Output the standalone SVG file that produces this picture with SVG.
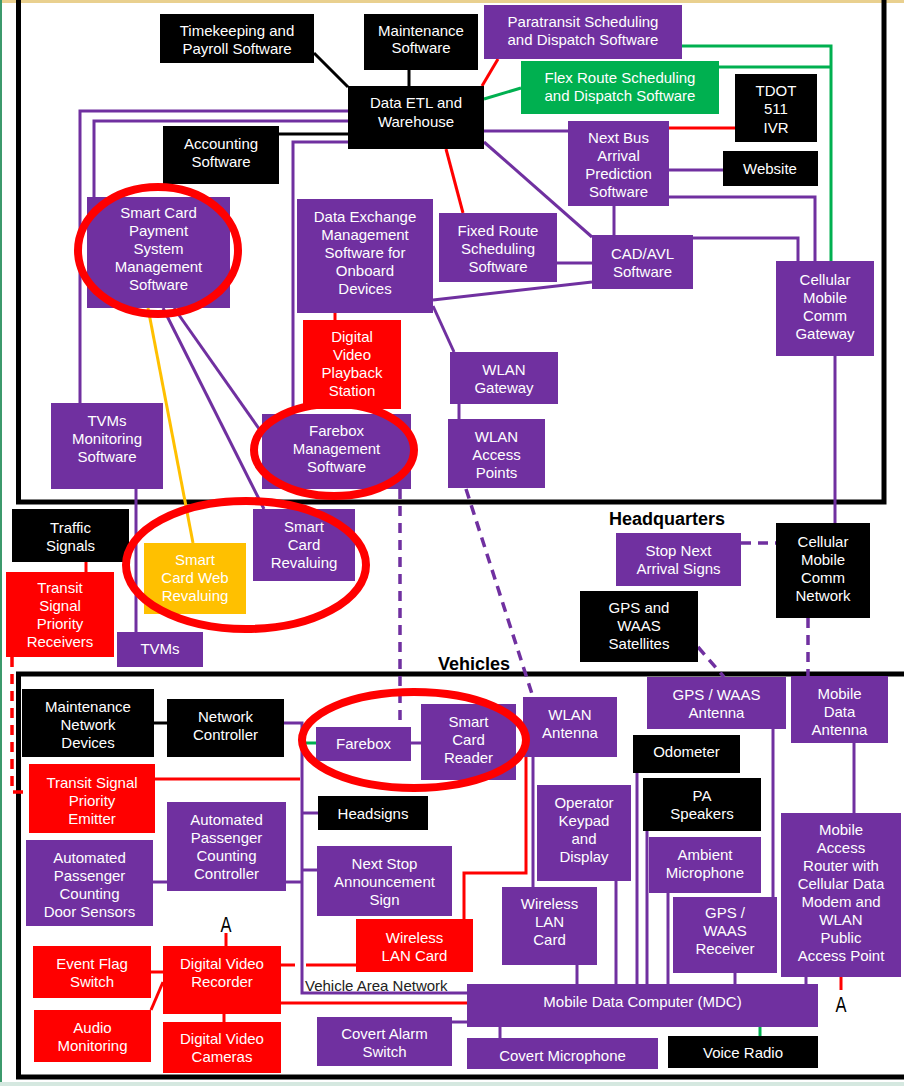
<svg xmlns="http://www.w3.org/2000/svg" width="904" height="1086" viewBox="0 0 904 1086">
<defs>
<style>
.p{fill:#7030a0}.k{fill:#000}.r{fill:#ff0000}.g{fill:#00b050}.y{fill:#ffc000}
text{font-family:"Liberation Sans",Arial,sans-serif;font-size:15px;fill:#fff;text-anchor:middle}
.lbl{font-weight:bold;font-size:18px;fill:#000;text-anchor:start}
.van{fill:#222;text-anchor:start}
.al{fill:#000;font-size:22px}
.c{fill:none;stroke-width:3}
.cp{stroke:#7030a0}.ck{stroke:#000}.cr{stroke:#ff0000}.cg{stroke:#00b050}.cy{stroke:#ffc000}
.d{stroke-width:3.5;stroke-dasharray:10 7}
.hl{fill:none;stroke:#ff0000;stroke-width:8}
.frame{fill:none;stroke:#000;stroke-width:5}
</style>
</defs>
<rect x="0" y="0" width="904" height="1086" fill="#fff"/>
<rect x="0" y="0" width="904" height="3" fill="#e9d08f"/>
<rect x="0" y="0" width="2" height="1086" fill="#3c9a6c"/>
<rect x="0" y="1082" width="904" height="4" fill="#d5e8e0"/>

<g id="frames">
<rect class="frame" x="18.5" y="-5" width="865.5" height="507"/>
<rect class="frame" x="18.5" y="674" width="900" height="403"/>
<text class="lbl" x="609" y="525">Headquarters</text>
<text class="lbl" x="438" y="670">Vehicles</text>
</g>

<g id="connectors">
<path class="c ck" d="M314,53 L348,87"/>
<path class="c ck" d="M409,70 V86"/>
<path class="c cr" d="M498,59 L482,86"/>
<path class="c cg" d="M521,88 L484,99"/>
<path class="c cp" d="M484,131 H568"/>
<path class="c cp" d="M484,142 L592,237"/>
<path class="c cr" d="M446,149 L463,213"/>
<path class="c cp" d="M80,403 V111 H348"/>
<path class="c cp" d="M94,197 V121 H348"/>
<path class="c ck" d="M279,134 H348"/>
<path class="c cp" d="M293,414 V142 H348"/>
<path class="c cr" d="M669,128 H735"/>
<path class="c cp" d="M669,170 H723"/>
<path class="c cp" d="M669,197 H815 V261"/>
<path class="c cp" d="M693,238 H798 V261"/>
<path class="c cg" d="M682,46 H831 V261"/>
<path class="c cg" d="M719,67 H831"/>
<path class="c cp" d="M614,206 V235"/>
<path class="c cp" d="M557,263 H592"/>
<path class="c cp" d="M433,300 L592,282"/>
<path class="c cp" d="M433,306 L454,352"/>
<path class="c cp" d="M459,404 V419"/>
<path class="c cr" d="M335,313 V320"/>
<path class="c cy" d="M148,308 L193,543"/>
<path class="c cp" d="M163,308 L264,509"/>
<path class="c cp" d="M174,308 L262,433"/>
<path class="c cp" d="M136,489 V632"/>
<path class="c cr" d="M86,562 V572"/>
<path class="c cr d" d="M12,657 V792 H29"/>
<path class="c cp d" d="M400,489 V727"/>
<path class="c cp d" d="M466,489 L533,697"/>
<path class="c cp d" d="M741,543 H776"/>
<path class="c cp" d="M835,356 V523"/>
<path class="c cp d" d="M808,618 V676"/>
<path class="c cp d" d="M698,647 L724,677"/>

<path class="c ck" d="M154,723 H167"/>
<path class="c cp" d="M284,723 H302 V993 H467"/>
<path class="c cg" d="M302,743 H316"/>
<path class="c cp" d="M411,743 H421"/>
<path class="c cr" d="M155,779 H300"/>
<path class="c cp" d="M302,813 H318"/>
<path class="c cp" d="M286,882 H302"/>
<path class="c cp" d="M153,882 H167"/>
<path class="c cp" d="M302,870 H317"/>
<path class="c cr" d="M281,965 H295 M306,965 H356"/>
<path class="c cr" d="M281,1003 H467"/>
<path class="c cr" d="M464,919 V873 H526 V757"/>
<path class="c cp" d="M533,757 V887"/>
<path class="c cp" d="M577,965 V984"/>
<path class="c cp" d="M452,1022 H467"/>
<path class="c cp" d="M500,1027 V1038"/>
<path class="c cr" d="M151,972 H163"/>
<path class="c cr" d="M151,1010 L163,982"/>
<path class="c cr" d="M224,1014 V1022"/>
<path class="c cg" d="M760,1027 V1036"/>
<path class="c cp" d="M735,973 V984"/>
<path class="c cp" d="M806,977 V984"/>
<path class="c cp" d="M668,893 V984"/>
<path class="c cp" d="M647,831 V984"/>
<path class="c cp" d="M637,773 V984"/>
<path class="c cp" d="M616,881 V984"/>
<path class="c cp" d="M773,729 V897"/>
<path class="c cp" d="M854,743 V813"/>
<path class="c cr" d="M841,977 V990"/>
<path class="c cr" d="M226,946 V933"/>
</g>

<g id="n-timekeeping"><rect class="k" x="160" y="14" width="154" height="49"/><text x="237" y="36">Timekeeping and</text><text x="237" y="54">Payroll Software</text></g>
<g id="n-maintenance"><rect class="k" x="364" y="14" width="114" height="56"/><text x="421" y="36">Maintenance</text><text x="421" y="53">Software</text></g>
<g id="n-paratransit"><rect class="p" x="484" y="5" width="198" height="54"/><text x="583" y="27">Paratransit Scheduling</text><text x="583" y="45">and Dispatch Software</text></g>
<g id="n-flex"><rect class="g" x="521" y="61" width="198" height="53"/><text x="620" y="83">Flex Route Scheduling</text><text x="620" y="101">and Dispatch Software</text></g>
<g id="n-etl"><rect class="k" x="348" y="86" width="136" height="63"/><text x="416" y="108">Data ETL and</text><text x="416" y="127">Warehouse</text></g>
<g id="n-tdot"><rect class="k" x="735" y="74" width="82" height="68"/><text x="776" y="96">TDOT</text><text x="776" y="114">511</text><text x="776" y="133">IVR</text></g>
<g id="n-website"><rect class="k" x="723" y="151" width="95" height="35"/><text x="770" y="174">Website</text></g>
<g id="n-nextbus"><rect class="p" x="568" y="121" width="101" height="85"/><text x="618.5" y="143">Next Bus</text><text x="618.5" y="161">Arrival</text><text x="618.5" y="179">Prediction</text><text x="618.5" y="197">Software</text></g>
<g id="n-accounting"><rect class="k" x="163" y="126" width="116" height="58"/><text x="221" y="149">Accounting</text><text x="221" y="167">Software</text></g>
<g id="n-scpayment"><rect class="p" x="87" y="197" width="143" height="111"/><text x="158.5" y="218">Smart Card</text><text x="158.5" y="236">Payment</text><text x="158.5" y="254">System</text><text x="158.5" y="272">Management</text><text x="158.5" y="290">Software</text></g>
<g id="n-dataexchange"><rect class="p" x="297" y="199" width="136" height="114"/><text x="365" y="222">Data Exchange</text><text x="365" y="240">Management</text><text x="365" y="258">Software for</text><text x="365" y="276">Onboard</text><text x="365" y="294">Devices</text></g>
<g id="n-fixedroute"><rect class="p" x="439" y="213" width="118" height="69"/><text x="498" y="236">Fixed Route</text><text x="498" y="254">Scheduling</text><text x="498" y="272">Software</text></g>
<g id="n-cadavl"><rect class="p" x="592" y="235" width="101" height="54"/><text x="642.5" y="259">CAD/AVL</text><text x="642.5" y="277">Software</text></g>
<g id="n-cellgw"><rect class="p" x="776" y="261" width="98" height="95"/><text x="825" y="285">Cellular</text><text x="825" y="303">Mobile</text><text x="825" y="321">Comm</text><text x="825" y="339">Gateway</text></g>
<g id="n-dvps"><rect class="r" x="303" y="320" width="98" height="89"/><text x="352" y="342">Digital</text><text x="352" y="360">Video</text><text x="352" y="378">Playback</text><text x="352" y="396">Station</text></g>
<g id="n-wlangw"><rect class="p" x="450" y="352" width="108" height="52"/><text x="504" y="375">WLAN</text><text x="504" y="393">Gateway</text></g>
<g id="n-wlanap"><rect class="p" x="448" y="419" width="97" height="69"/><text x="496.5" y="442">WLAN</text><text x="496.5" y="460">Access</text><text x="496.5" y="478">Points</text></g>
<g id="n-fareboxmgmt"><rect class="p" x="262" y="414" width="149" height="75"/><text x="336.5" y="436">Farebox</text><text x="336.5" y="454">Management</text><text x="336.5" y="472">Software</text></g>
<g id="n-tvmsmon"><rect class="p" x="51" y="403" width="112" height="86"/><text x="107" y="426">TVMs</text><text x="107" y="444">Monitoring</text><text x="107" y="462">Software</text></g>
<g id="n-traffic"><rect class="k" x="12" y="509" width="117" height="53"/><text x="70.5" y="533">Traffic</text><text x="70.5" y="551">Signals</text></g>
<g id="n-scweb"><rect class="y" x="144" y="543" width="102" height="71"/><text x="195" y="565">Smart</text><text x="195" y="583">Card Web</text><text x="195" y="601">Revaluing</text></g>
<g id="n-screval"><rect class="p" x="253" y="509" width="102" height="72"/><text x="304" y="532">Smart</text><text x="304" y="550">Card</text><text x="304" y="568">Revaluing</text></g>
<g id="n-tspr"><rect class="r" x="6" y="572" width="108" height="85"/><text x="60" y="593">Transit</text><text x="60" y="611">Signal</text><text x="60" y="629">Priority</text><text x="60" y="647">Receivers</text></g>
<g id="n-tvms"><rect class="p" x="117" y="632" width="86" height="35"/><text x="160" y="654">TVMs</text></g>
<g id="n-stopnext"><rect class="p" x="616" y="533" width="125" height="53"/><text x="678.5" y="556">Stop Next</text><text x="678.5" y="574">Arrival Signs</text></g>
<g id="n-cellnet"><rect class="k" x="776" y="523" width="94" height="95"/><text x="823" y="547">Cellular</text><text x="823" y="565">Mobile</text><text x="823" y="583">Comm</text><text x="823" y="601">Network</text></g>
<g id="n-gpssat"><rect class="k" x="580" y="591" width="118" height="71"/><text x="639" y="613">GPS and</text><text x="639" y="631">WAAS</text><text x="639" y="649">Satellites</text></g>

<g id="n-maintnet"><rect class="k" x="22" y="689" width="132" height="68"/><text x="88" y="712">Maintenance</text><text x="88" y="730">Network</text><text x="88" y="748">Devices</text></g>
<g id="n-netctrl"><rect class="k" x="167" y="699" width="117" height="58"/><text x="225.5" y="722">Network</text><text x="225.5" y="740">Controller</text></g>
<g id="n-tspe"><rect class="r" x="29" y="764" width="126" height="69"/><text x="92" y="788">Transit Signal</text><text x="92" y="806">Priority</text><text x="92" y="824">Emitter</text></g>
<g id="n-apcctrl"><rect class="p" x="167" y="802" width="119" height="89"/><text x="226.5" y="825">Automated</text><text x="226.5" y="843">Passenger</text><text x="226.5" y="861">Counting</text><text x="226.5" y="879">Controller</text></g>
<g id="n-apcdoor"><rect class="p" x="26" y="840" width="127" height="86"/><text x="89.5" y="863">Automated</text><text x="89.5" y="881">Passenger</text><text x="89.5" y="899">Counting</text><text x="89.5" y="917">Door Sensors</text></g>
<g id="n-eventflag"><rect class="r" x="33" y="946" width="118" height="52"/><text x="92" y="969">Event Flag</text><text x="92" y="987">Switch</text></g>
<g id="n-audio"><rect class="r" x="34" y="1010" width="117" height="52"/><text x="92.5" y="1033">Audio</text><text x="92.5" y="1051">Monitoring</text></g>
<g id="n-dvr"><rect class="r" x="163" y="946" width="118" height="68"/><text x="222" y="969">Digital Video</text><text x="222" y="987">Recorder</text></g>
<g id="n-dvcam"><rect class="r" x="163" y="1022" width="118" height="51"/><text x="222" y="1044">Digital Video</text><text x="222" y="1062">Cameras</text></g>
<g id="n-farebox"><rect class="p" x="316" y="727" width="95" height="34"/><text x="363.5" y="749">Farebox</text></g>
<g id="n-screader"><rect class="p" x="421" y="704" width="95" height="76"/><text x="468.5" y="727">Smart</text><text x="468.5" y="745">Card</text><text x="468.5" y="763">Reader</text></g>
<g id="n-wlanant"><rect class="p" x="523" y="697" width="94" height="60"/><text x="570" y="720">WLAN</text><text x="570" y="738">Antenna</text></g>
<g id="n-gpsant"><rect class="p" x="647" y="677" width="139" height="52"/><text x="716.5" y="700">GPS / WAAS</text><text x="716.5" y="718">Antenna</text></g>
<g id="n-mdant"><rect class="p" x="791" y="676" width="97" height="67"/><text x="839.5" y="699">Mobile</text><text x="839.5" y="717">Data</text><text x="839.5" y="735">Antenna</text></g>
<g id="n-odometer"><rect class="k" x="633" y="735" width="107" height="38"/><text x="686.5" y="757">Odometer</text></g>
<g id="n-pa"><rect class="k" x="643" y="778" width="118" height="53"/><text x="702" y="801">PA</text><text x="702" y="819">Speakers</text></g>
<g id="n-keypad"><rect class="p" x="537" y="785" width="94" height="96"/><text x="584" y="808">Operator</text><text x="584" y="826">Keypad</text><text x="584" y="844">and</text><text x="584" y="862">Display</text></g>
<g id="n-headsigns"><rect class="k" x="318" y="796" width="110" height="34"/><text x="373" y="819">Headsigns</text></g>
<g id="n-nextstop"><rect class="p" x="317" y="846" width="135" height="70"/><text x="384.5" y="869">Next Stop</text><text x="384.5" y="887">Announcement</text><text x="384.5" y="905">Sign</text></g>
<g id="n-wlancard-r"><rect class="r" x="356" y="919" width="117" height="53"/><text x="414.5" y="943">Wireless</text><text x="414.5" y="961">LAN Card</text></g>
<g id="n-wlancard-p"><rect class="p" x="502" y="887" width="95" height="78"/><text x="549.5" y="909">Wireless</text><text x="549.5" y="927">LAN</text><text x="549.5" y="945">Card</text></g>
<g id="n-ambient"><rect class="p" x="649" y="837" width="112" height="56"/><text x="705" y="860">Ambient</text><text x="705" y="878">Microphone</text></g>
<g id="n-gpsrx"><rect class="p" x="673" y="897" width="104" height="76"/><text x="725" y="918">GPS /</text><text x="725" y="936">WAAS</text><text x="725" y="954">Receiver</text></g>
<g id="n-router"><rect class="p" x="781" y="813" width="120" height="164"/><text x="841" y="835">Mobile</text><text x="841" y="853">Access</text><text x="841" y="871">Router with</text><text x="841" y="889">Cellular Data</text><text x="841" y="907">Modem and</text><text x="841" y="925">WLAN</text><text x="841" y="943">Public</text><text x="841" y="961">Access Point</text></g>
<g id="n-mdc"><rect class="p" x="467" y="984" width="351" height="43"/><text x="642.5" y="1007">Mobile Data Computer (MDC)</text></g>
<g id="n-voice"><rect class="k" x="668" y="1036" width="150" height="32"/><text x="743" y="1058">Voice Radio</text></g>
<g id="n-covertalarm"><rect class="p" x="317" y="1017" width="135" height="49"/><text x="384.5" y="1039">Covert Alarm</text><text x="384.5" y="1057">Switch</text></g>
<g id="n-covertmic"><rect class="p" x="467" y="1038" width="191" height="31"/><text x="562.5" y="1061">Covert Microphone</text></g>

<g id="labels">
<text class="van" x="305" y="991">Vehicle Area Network</text>
<text class="al" x="226" y="932" textLength="11" lengthAdjust="spacingAndGlyphs">A</text>
<text class="al" x="841" y="1012" textLength="11" lengthAdjust="spacingAndGlyphs">A</text>
</g>

<g id="highlights">
<ellipse class="hl" cx="158" cy="250.5" rx="80" ry="63.5"/>
<ellipse class="hl" cx="334" cy="450" rx="80" ry="46"/>
<ellipse class="hl" cx="246" cy="565" rx="120" ry="64"/>
<ellipse class="hl" cx="414" cy="740" rx="112" ry="48"/>
</g>
</svg>
